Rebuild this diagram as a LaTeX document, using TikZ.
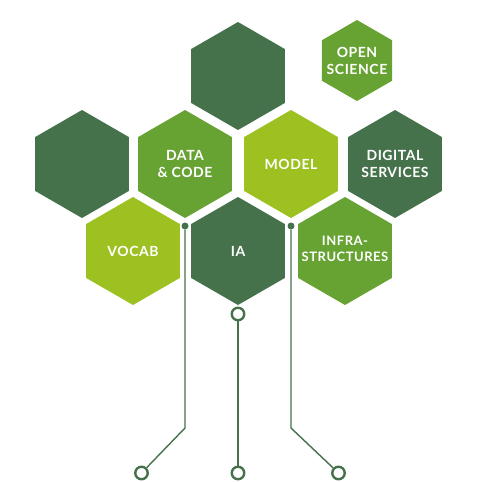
\documentclass[tikz,border=0pt]{standalone}
\usepackage{fontspec}
\setmainfont{Lato}[LetterSpace=4]
\usetikzlibrary{shapes.geometric}
\definecolor{dkg}{RGB}{69,113,75}
\definecolor{mdg}{RGB}{103,163,50}
\definecolor{ltg}{RGB}{156,193,32}
\tikzset{
  hexa/.style={regular polygon, regular polygon sides=6, shape border rotate=30,
    minimum size=108pt, inner sep=0pt, draw=none},
  smallhexa/.style={hexa, minimum size=81pt},
  hexlabel/.style={text=white, font=\fontsize{14}{17}\selectfont\bfseries, align=center, inner sep=0pt},
  conn/.style={draw=dkg, line width=1.4pt},
  dotnode/.style={circle, fill=dkg, inner sep=0pt, minimum size=7pt},
  ring/.style={circle, draw=dkg, line width=2.4pt, fill=white, inner sep=0pt, minimum size=12.5pt}
}
\begin{document}
\begin{tikzpicture}[x=1pt,y=-1pt]
\useasboundingbox (0,0) rectangle (478,482);
\node[hexa, fill=dkg] (top) at (238,76) {};
\node[smallhexa, fill=mdg] (open) at (357,60.5) {};
\node[hexa, fill=dkg] (left) at (82,164) {};
\node[hexa, fill=mdg] (data) at (185,164) {};
\node[hexa, fill=ltg] (model) at (291,164) {};
\node[hexa, fill=dkg] (digital) at (395,164) {};
\node[hexa, fill=ltg] (vocab) at (133,251) {};
\node[hexa, fill=dkg] (ia) at (238,251) {};
\node[hexa, fill=mdg] (infra) at (345,251) {};
% labels
\node[hexlabel] (topen) at (open.center) {OPEN\\SCIENCE};
\node[hexlabel] (tdata) at (data.center) {DATA\\\& CODE};
\node[hexlabel] (tmodel) at (model.center) {MODEL};
\node[hexlabel] (tdigital) at (digital.center) {DIGITAL\\SERVICES};
\node[hexlabel] (tvocab) at (vocab.center) {VOCAB};
\node[hexlabel] (tia) at (ia.center) {IA};
\node[hexlabel, font=\fontsize{13}{16}\selectfont\bfseries] (tinfra) at ([yshift=2pt]infra.center) {INFRA-\\STRUCTURES};
% connectors
\node[dotnode] (d1) at (185,226) {};
\node[dotnode] (d2) at (291,226) {};
\node[ring] (r0) at (238,314) {};
\coordinate (b1) at (185,428);
\coordinate (b2) at (291,428);
\node[ring] (r1) at (141.5,473) {};
\node[ring] (r2) at (238,473) {};
\node[ring] (r3) at (338.5,473) {};
\draw[conn] (d1) -- (b1) -- (r1);
\draw[conn] (d2) -- (b2) -- (r3);
\draw[conn] (r0) -- (r2);
\end{tikzpicture}
\end{document}
